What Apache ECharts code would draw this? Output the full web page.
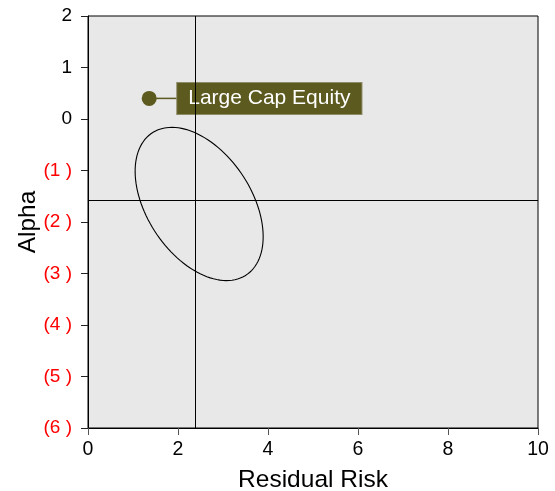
<!DOCTYPE html>
<html>
<head>
<meta charset="utf-8">
<script src="https://cdn.jsdelivr.net/npm/echarts@6/dist/echarts.min.js"></script>
<style>
  html, body { margin: 0; padding: 0; background: #fff; }
  #main { width: 555px; height: 491px; }
</style>
</head>
<body>
<div id="main"></div>
<script>
// axis ranges / ticks
var xTicks = [0, 2, 4, 6, 8, 10];
var yTicks = [2, 1, 0, -1, -2, -3, -4, -5, -6];

// asset point: [risk, alpha, name]
var assets = [[1.36, 0.40, 'Large Cap Equity']];

// crosshair (benchmark) lines
var crossX = 2.38;
var crossY = -1.57;

// ellipse: [centerX, centerY, semiMajor, semiMinor, angleDeg] in data units
var ellipses = [[2.47, -1.65, 1.74, 1.10, -48]];

var olive = '#5c5a1e';
var font = '"Liberation Sans", Arial, sans-serif';

var chart = echarts.init(document.getElementById('main'));

var option = {
  animation: false,
  grid: {
    left: 88, right: 17, top: 16, bottom: 63,
    outerBoundsMode: 'none',
    containLabel: false,
    show: true,
    backgroundColor: '#e8e8e8',
    borderColor: '#000',
    borderWidth: 1
  },
  xAxis: {
    type: 'value',
    min: xTicks[0], max: xTicks[xTicks.length - 1], interval: 2,
    name: 'Residual Risk',
    nameLocation: 'middle',
    nameGap: 40,
    nameMoveOverlap: false,
    nameTextStyle: { fontSize: 24.5, color: '#000', fontFamily: font },
    axisLine: { onZero: false, lineStyle: { color: '#000', width: 1 } },
    axisTick: { show: true, length: 7, lineStyle: { color: '#555' } },
    axisLabel: { fontSize: 19.5, color: '#000', margin: 12, fontFamily: font },
    splitLine: { show: false }
  },
  yAxis: {
    type: 'value',
    min: yTicks[yTicks.length - 1], max: yTicks[0], interval: 1,
    name: 'Alpha',
    nameLocation: 'middle',
    nameGap: 47,
    nameMoveOverlap: false,
    nameRotate: 90,
    nameTextStyle: { fontSize: 24.5, color: '#000', fontFamily: font },
    axisLine: { onZero: false, lineStyle: { color: '#000', width: 1 } },
    axisTick: { show: true, length: 7, lineStyle: { color: '#222' } },
    axisLabel: {
      fontSize: 19, margin: 16, fontFamily: font,
      formatter: function (v) { return v < 0 ? '(' + (-v) + ' )' : String(v); },
      color: function (v) { return Number(v) < 0 ? '#ff0000' : '#000'; }
    },
    splitLine: { show: false }
  },
  series: [
    {
      type: 'line',
      data: [],
      silent: true,
      markLine: {
        symbol: 'none',
        silent: true,
        label: { show: false },
        lineStyle: { color: '#000', width: 1, type: 'solid' },
        data: [{ xAxis: crossX }, { yAxis: crossY }]
      }
    },
    {
      type: 'custom',
      data: ellipses,
      silent: true,
      renderItem: function (params, api) {
        var cx = api.value(0), cy = api.value(1);
        var a = api.value(2), b = api.value(3);
        var ang = api.value(4) * Math.PI / 180;
        var pts = [];
        for (var t = 0; t < 360; t += 3) {
          var r = t * Math.PI / 180;
          var ex = a * Math.cos(r), ey = b * Math.sin(r);
          pts.push(api.coord([
            cx + ex * Math.cos(ang) - ey * Math.sin(ang),
            cy + ex * Math.sin(ang) + ey * Math.cos(ang)
          ]));
        }
        return {
          type: 'polygon',
          shape: { points: pts, smooth: 0 },
          style: { fill: 'none', stroke: '#000', lineWidth: 1.1 }
        };
      }
    },
    {
      type: 'custom',
      data: assets,
      silent: true,
      renderItem: function (params, api) {
        var p = api.coord([api.value(0), api.value(1)]);
        var name = assets[params.dataIndex][2];
        return {
          type: 'group',
          children: [
            { type: 'line', shape: { x1: p[0], y1: p[1], x2: p[0] + 29, y2: p[1] },
              style: { stroke: olive, lineWidth: 1.5 } },
            { type: 'circle', shape: { cx: p[0], cy: p[1], r: 7.5 }, style: { fill: olive } },
            { type: 'text', x: p[0] + 28, y: p[1],
              style: {
                text: name, fill: '#fff', font: '21px ' + font,
                verticalAlign: 'middle', align: 'left',
                backgroundColor: olive, padding: [5, 11, 5, 11],
                borderColor: '#8e8c66', borderWidth: 1
              } }
          ]
        };
      }
    }
  ]
};

chart.setOption(option);
</script>
</body>
</html>
